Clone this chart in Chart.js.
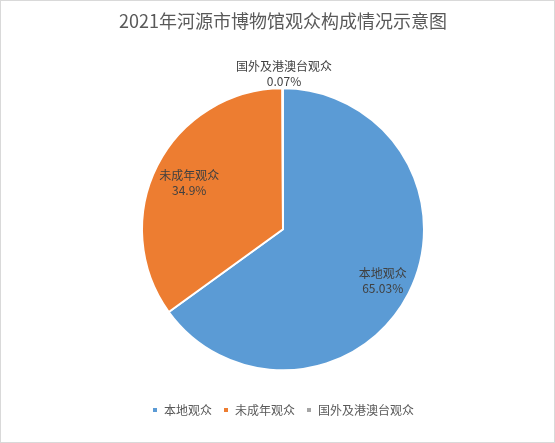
<!DOCTYPE html>
<html>
<head>
<meta charset="utf-8">
<script src="https://cdn.jsdelivr.net/npm/chart.js@4"></script>
<style>
  html, body { margin: 0; padding: 0; background: #fff; }
  #wrap { width: 555px; height: 443px; box-sizing: border-box; border: 1px solid #d9d9d9; }
  canvas { display: block; }
</style>
</head>
<body>
<div id="wrap"><canvas id="pie" width="553" height="441"></canvas></div>
<script>
const title = '2021年河源市博物馆观众构成情况示意图'
const categories = ['本地观众', '未成年观众', '国外及港澳台观众']
const shares = [65.03, 34.9, 0.07]
const colors = ['#5b9bd5', '#ed7d31', '#a5a5a5']

const fontFamily = '"Noto Sans CJK SC", "Microsoft YaHei", sans-serif'

// labels inside the slices, small slices get theirs above the pie
const sliceLabels = {
  id: 'sliceLabels',
  afterDatasetsDraw(chart) {
    const ctx = chart.ctx
    const meta = chart.getDatasetMeta(0)
    ctx.save()
    ctx.font = '12px ' + fontFamily
    ctx.fillStyle = '#404040'
    ctx.textAlign = 'center'
    ctx.textBaseline = 'middle'
    meta.data.forEach((arc, i) => {
      const { x, y, startAngle, endAngle, outerRadius } = arc.getProps(['x', 'y', 'startAngle', 'endAngle', 'outerRadius'], true)
      const value = shares[i]
      let lx, ly
      if (value > 5) {
        const mid = (startAngle + endAngle) / 2
        lx = x + Math.cos(mid) * outerRadius * 0.77 + 3
        ly = y + Math.sin(mid) * outerRadius * 0.77 + 3
      } else {
        lx = x + 1
        ly = y - outerRadius - 14
      }
      ctx.fillText(categories[i], lx, ly - 8)
      ctx.fillText(value + '%', lx, ly + 7)
    })
    ctx.restore()
  }
}

new Chart('pie', {
  type: 'pie',
  data: {
    labels: categories,
    datasets: [{
      data: shares,
      backgroundColor: colors,
      borderColor: '#ffffff',
      borderWidth: 2,
      radius: 141
    }]
  },
  options: {
    responsive: false,
    animation: false,
    layout: {
      padding: { left: 11, right: 0, top: 0, bottom: 16 }
    },
    plugins: {
      title: {
        display: true,
        text: title,
        color: '#595959',
        font: { family: fontFamily, size: 18, weight: 'normal' },
        padding: { top: 9, bottom: 34 }
      },
      legend: {
        position: 'bottom',
        labels: {
          boxWidth: 6,
          boxHeight: 6,
          color: '#595959',
          font: { family: fontFamily, size: 12 },
          padding: 11
        }
      },
      tooltip: { enabled: false }
    }
  },
  plugins: [sliceLabels]
})
</script>
</body>
</html>
